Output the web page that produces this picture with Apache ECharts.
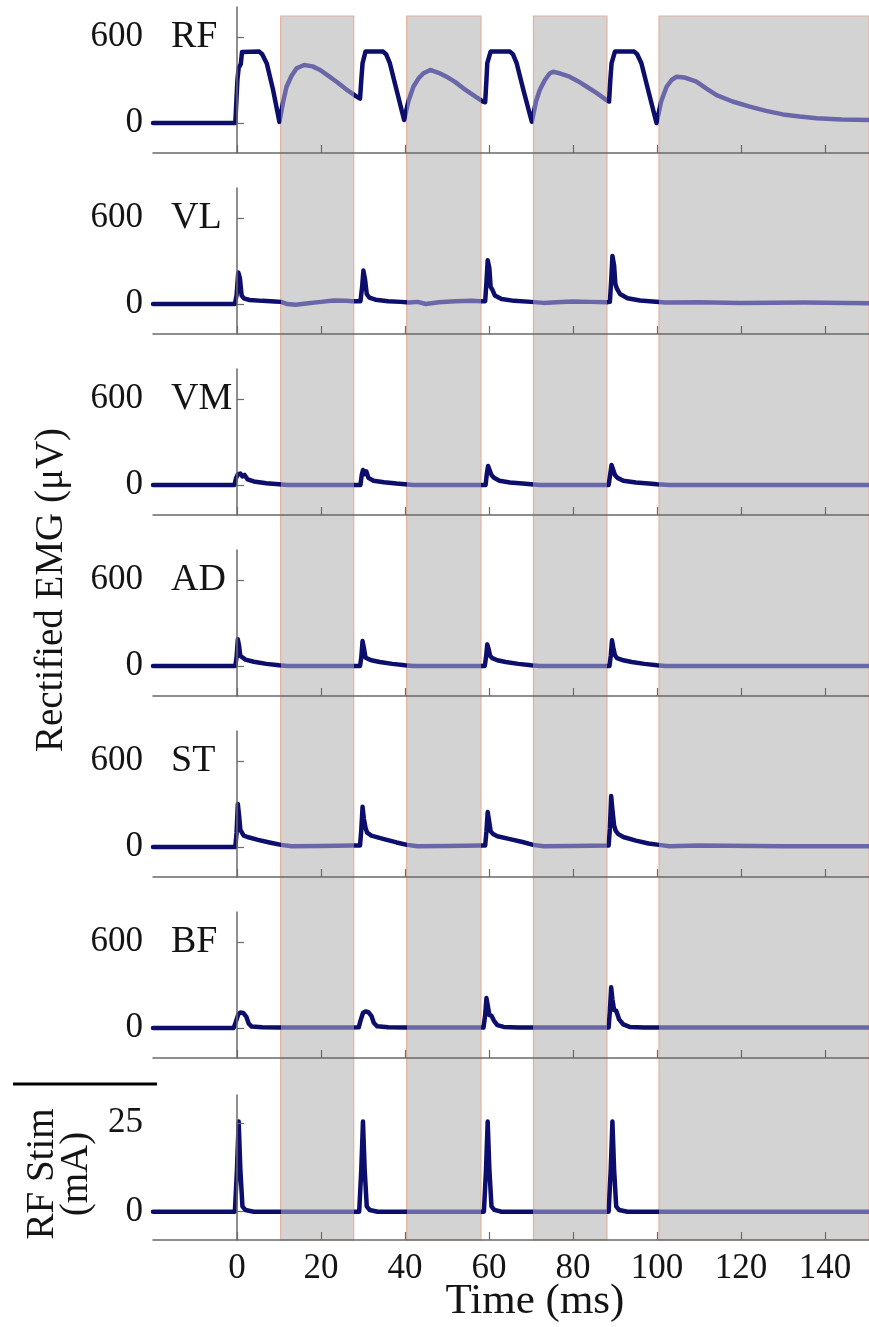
<!DOCTYPE html>
<html>
<head>
<meta charset="utf-8">
<script src="https://cdn.jsdelivr.net/npm/echarts@6/dist/echarts.min.js"></script>
<style>
  html, body { margin: 0; padding: 0; background: #ffffff; }
  #chart { width: 869px; height: 1327px; }
</style>
</head>
<body>
<div id="chart"></div>
<script>
// Rectified EMG traces, [time (ms), amplitude (µV)]
const rfEmg = [
  [-20,0],[-0.4,0],[0.1,300],[0.4,385],[0.9,410],[1.2,495],[5.3,498],[6.0,480],[7.1,415],[8.6,230],[10.1,8],
  [11.0,150],[11.8,253],[13.0,330],[14.2,382],[16.0,405],[18.0,395],[19.8,370],[21.7,330],[23.7,288],[26.0,235],[28.5,184],[29.3,170],
  [29.6,300],[29.9,417],[30.3,420],[30.6,498],[34.8,498],[35.5,480],[36.4,417],[38.0,230],[39.8,21],
  [40.8,150],[42.0,253],[43.2,310],[44.4,347],[46.0,370],[48.0,350],[49.9,323],[52.0,285],[53.9,242],[56.0,200],[58.6,149],[59.1,145],
  [59.4,300],[59.6,417],[60.0,420],[60.4,498],[65.0,498],[65.7,480],[66.6,417],[68.2,230],[70.2,9],
  [71.2,150],[72.1,230],[73.3,300],[74.5,347],[75.3,358],[77.0,345],[79.2,323],[81.3,290],[83.3,253],[85.6,210],[88.0,160],[88.6,150],
  [88.9,300],[89.2,417],[89.6,420],[90.0,498],[94.6,498],[95.3,480],[96.3,417],[97.9,230],[99.9,0],
  [101.0,150],[102.3,253],[103.5,300],[104.7,323],[106.5,318],[109.4,288],[111.8,240],[114.2,195],[118,150],[122.1,114],[126,85],[130,60],[134,45],[138,33],[144,25],[150.5,21]
];
const vlEmg = [
  [-20,0],[-0.5,0],[-0.1,60],[0.3,220],[0.7,180],[1.1,60],[1.6,40],[3,28],[6,22],[9,18],[10.5,15],
  [12,0],[14,-5],[17,5],[20,15],[23,25],[26,22],[27.5,20],
  [29.4,20],[29.8,120],[30.1,233],[30.5,170],[30.9,70],[31.5,45],[33,30],[36,20],[39,15],
  [41,10],[43,15],[45,0],[48,12],[52,20],[56,22],[58,20],[59.1,20],
  [59.4,150],[59.7,305],[60.1,250],[60.4,120],[60.8,100],[61.4,60],[63,35],[66,22],[70,15],
  [73,8],[76,12],[80,18],[84,15],[88,12],[88.8,15],
  [89.1,160],[89.4,335],[89.8,270],[90.1,140],[90.5,105],[91.2,70],[93,40],[96,25],[99,18],
  [102,10],[110,12],[120,8],[135,10],[150.5,5]
];
const vmEmg = [
  [-20,0],[-0.6,0],[-0.2,50],[0.2,75],[0.8,80],[1.3,60],[1.8,70],[2.5,40],[4,25],[7,12],[10,5],[12,0],[27.5,0],
  [29.4,0],[29.7,70],[30.0,105],[30.4,75],[30.8,95],[31.3,50],[32.5,30],[35,20],[38,10],[40,5],[42,0],[58,0],
  [59.2,0],[59.5,80],[59.8,133],[60.2,100],[60.6,70],[61.2,50],[62.5,30],[65,18],[68,10],[70,5],[72,0],[88.5,0],
  [88.9,80],[89.2,140],[89.6,105],[90.0,70],[90.6,50],[92,30],[95,18],[98,10],[100,5],[103,0],[150.5,0]
];
const adEmg = [
  [-20,0],[-0.4,0],[-0.1,60],[0.2,186],[0.5,140],[0.8,70],[1.3,60],[2,45],[4,30],[7,15],[10,5],[12,0],[29.3,0],
  [29.6,60],[29.9,174],[30.2,130],[30.6,60],[31.2,50],[32,40],[34,28],[37,15],[40,5],[42,0],[59,0],
  [59.3,60],[59.6,151],[59.9,120],[60.3,70],[60.8,55],[62,40],[64,28],[67,15],[70,5],[72,0],[88.7,0],
  [89.0,70],[89.3,179],[89.6,130],[90,75],[90.5,55],[92,40],[94,28],[97,15],[100,5],[102,0],[150.5,0]
];
const stEmg = [
  [-20,0],[-0.4,0],[-0.1,100],[0.2,300],[0.5,220],[0.8,120],[1.2,125],[1.6,80],[2.5,70],[5,50],[8,30],[10.5,15],[13,5],[20,8],[27.5,10],[29.3,10],
  [29.6,120],[29.9,280],[30.2,200],[30.6,135],[31.0,100],[32,80],[35,55],[38,32],[40.5,15],[43,5],[50,8],[58,10],[59.1,10],
  [59.4,110],[59.7,244],[60,190],[60.4,110],[61,90],[62,75],[65,55],[68,35],[70.5,15],[73,5],[80,8],[88.5,10],
  [88.8,130],[89.1,356],[89.4,260],[89.8,150],[90.2,112],[90.8,90],[92,70],[95,45],[98,25],[100.5,15],[103,5],[110,10],[130,5],[150.5,5]
];
const bfEmg = [
  [-20,0],[-0.8,0],[-0.3,40],[0.3,95],[0.8,109],[1.5,105],[2.2,80],[2.8,30],[3.5,10],[6,5],[10,3],[27,3],[29.0,5],
  [29.4,50],[30,105],[30.6,116],[31.3,110],[32,85],[32.6,35],[33.4,12],[36,5],[40,3],[58.7,3],
  [59.1,90],[59.4,209],[59.7,160],[60.1,90],[60.6,86],[61.2,50],[62,20],[63.5,8],[67,3],[88.5,3],
  [88.8,120],[89.1,284],[89.4,200],[89.8,125],[90.3,121],[91,60],[92,25],[93.5,8],[97,3],[150.5,3]
];
// Stimulation current on RF, [time (ms), current (mA)]
const rfStim = [
  [-20,0],[-0.5,0],[0,12],[0.4,25.5],[0.8,12],[1.3,1.5],[2,0.5],[4,0],
  [29.1,0],[29.6,12],[30,25.5],[30.4,12],[30.9,1.5],[31.6,0.5],[33.5,0],
  [58.8,0],[59.3,12],[59.7,25.5],[60.1,12],[60.6,1.5],[61.3,0.5],[63,0],
  [88.5,0],[89,12],[89.4,25.5],[89.8,12],[90.3,1.5],[91,0.5],[93,0],[150.5,0]
];

const muscleNames = ['RF', 'VL', 'VM', 'AD', 'ST', 'BF'];
const emgTraces = [rfEmg, vlEmg, vmEmg, adEmg, stEmg, bfEmg];
const emgTicks = [0, 600];
const stimTicks = [0, 25];
const timeTicks = [0, 20, 40, 60, 80, 100, 120, 140];
// Shaded inter-burst windows (ms)
const restWindows = [[10.4, 27.8], [40.4, 58.1], [70.6, 88.1], [100.5, 150.5]];

const TIME_MIN = -20, TIME_MAX = 150.5;
const EMG_MIN = -209, EMG_MAX = 809;
const STIM_MIN = -8, STIM_MAX = 33;

const FONT = '"Liberation Serif", "Times New Roman", serif';
const TEXT = '#141414';
const AXIS = '#6a6a6a';
const DARK = '#0d0d6b';
const LIGHT = '#6a67a9';

const PANEL_LEFT = 153, PANEL_RIGHT = 0;
const PANEL_TOP = 7, PANEL_STEP = 181, PANEL_H = 146;
const STIM_TOP = 1095, STIM_H = 145;

const grids = [], xAxes = [], yAxes = [], series = [], graphics = [];

function addPanel(idx, top, height, yMin, yMax, ticks, data, showTimeLabels) {
  grids.push({ left: PANEL_LEFT, right: PANEL_RIGHT, top: top, height: height,
               containLabel: false, outerBoundsMode: 'none' });
  xAxes.push({
    type: 'value', gridIndex: idx, min: TIME_MIN, max: TIME_MAX,
    axisLine: { show: true, onZero: false, lineStyle: { color: AXIS, width: 1.5 } },
    axisTick: { show: true, inside: true, length: 8, customValues: timeTicks,
                lineStyle: { color: AXIS, width: 1.2 } },
    axisLabel: { show: showTimeLabels, customValues: timeTicks, margin: 11,
                 fontFamily: FONT, fontSize: 35, color: TEXT },
    splitLine: { show: false }, z: 5
  });
  yAxes.push({
    type: 'value', gridIndex: idx, min: yMin, max: yMax,
    axisLine: { show: true, lineStyle: { color: AXIS, width: 1.5 } },
    axisTick: { show: true, inside: true, length: 7, customValues: ticks,
                lineStyle: { color: AXIS, width: 1.2 } },
    axisLabel: { show: true, customValues: ticks, margin: 10,
                 fontFamily: FONT, fontSize: 35, color: TEXT },
    splitLine: { show: false }, z: 5
  });
  series.push({
    type: 'line', xAxisIndex: idx, yAxisIndex: idx, data: data,
    showSymbol: false, symbol: 'none', smooth: false, z: 3,
    lineStyle: { width: 4.5, join: 'round', cap: 'round' },
    animation: false
  });
}

emgTraces.forEach(function (trace, i) {
  addPanel(i, PANEL_TOP + i * PANEL_STEP, PANEL_H, EMG_MIN, EMG_MAX, emgTicks, trace, false);
  graphics.push({
    type: 'text', x: 171, y: PANEL_TOP + i * PANEL_STEP + 30, z: 10,
    style: { text: muscleNames[i], font: '38px ' + FONT, fill: TEXT,
             textAlign: 'left', textVerticalAlign: 'middle' }
  });
});
addPanel(6, STIM_TOP, STIM_H, STIM_MIN, STIM_MAX, stimTicks, rfStim, true);

// Full-height background panel carrying the shaded windows
grids.push({ left: PANEL_LEFT, right: PANEL_RIGHT, top: 16, bottom: 1327 - 1240,
             containLabel: false, outerBoundsMode: 'none' });
xAxes.push({ type: 'value', gridIndex: 7, min: TIME_MIN, max: TIME_MAX, show: false });
yAxes.push({ type: 'value', gridIndex: 7, min: 0, max: 1, show: false });
series.push({
  type: 'line', xAxisIndex: 7, yAxisIndex: 7, data: [], z: 1, silent: true,
  markArea: {
    silent: true,
    itemStyle: { color: '#d3d3d3', borderColor: '#e3b29c', borderWidth: 1.2 },
    data: restWindows.map(function (w) { return [{ xAxis: w[0] }, { xAxis: w[1] }]; })
  }
});

// Trace colour: dark during stimulation bursts, lighter inside shaded windows
const pieces = [];
let prevEnd = TIME_MIN - 1;
restWindows.forEach(function (w) {
  pieces.push({ gte: prevEnd, lt: w[0], color: DARK });
  pieces.push({ gte: w[0], lt: w[1], color: LIGHT });
  prevEnd = w[1];
});
pieces.push({ gte: prevEnd, lte: TIME_MAX + 1, color: LIGHT });

graphics.push({
  type: 'text', x: 52, y: 590, rotation: Math.PI / 2, z: 10,
  style: { text: 'Rectified EMG (\u03bcV)', font: '39px ' + FONT, fill: TEXT,
           textAlign: 'center', textVerticalAlign: 'middle' }
});
graphics.push({
  type: 'text', x: 60, y: 1174, rotation: Math.PI / 2, z: 10,
  style: { text: 'RF Stim\n(mA)', font: '39px ' + FONT, fill: TEXT, lineHeight: 34,
           textAlign: 'center', textVerticalAlign: 'middle' }
});
graphics.push({
  type: 'line', z: 10,
  shape: { x1: 13, y1: 1084, x2: 157, y2: 1084 },
  style: { stroke: '#000000', lineWidth: 3 }
});
graphics.push({
  type: 'text', x: 535, y: 1302, z: 10,
  style: { text: 'Time (ms)', font: '43px ' + FONT, fill: TEXT,
           textAlign: 'center', textVerticalAlign: 'middle' }
});

const chart = echarts.init(document.getElementById('chart'), null, { renderer: 'canvas' });
chart.setOption({
  backgroundColor: '#ffffff',
  animation: false,
  grid: grids,
  xAxis: xAxes,
  yAxis: yAxes,
  visualMap: {
    type: 'piecewise', show: false, dimension: 0,
    seriesIndex: [0, 1, 2, 3, 4, 5, 6],
    pieces: pieces
  },
  series: series,
  graphic: graphics
});
</script>
</body>
</html>
